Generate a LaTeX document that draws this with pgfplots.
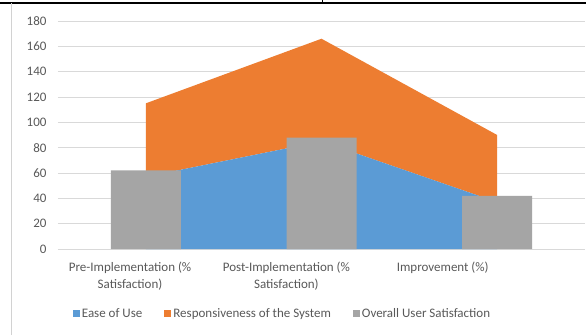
\documentclass[border=0pt]{standalone}
\usepackage{pgfplots}
\pgfplotsset{compat=1.18}
\usepackage{pgfplotstable}
\usepackage{fontspec}
\setmainfont{Carlito}

\definecolor{easeblue}{HTML}{5B9BD5}
\definecolor{resporange}{HTML}{ED7D31}
\definecolor{overallgray}{HTML}{A5A5A5}
\definecolor{gridgray}{HTML}{D9D9D9}
\definecolor{labelgray}{HTML}{595959}

% Satisfaction scores per phase
\pgfplotstableread{
x ease resp overall
0 57 58 62
1 85 81 88
2 37 53 42
}\satisfaction

\begin{document}
\begin{tikzpicture}
\useasboundingbox (0pt,0pt) rectangle (586pt,335pt);
\fill[white] (0pt,0pt) rectangle (586pt,335pt);
% surrounding frame lines
\draw[black, line width=1.4pt] (0pt,332pt) -- (586pt,332pt);
\draw[black, line width=0.8pt] (322.5pt,332pt) -- (322.5pt,335pt);
\draw[gray!35, line width=0.8pt] (11.7pt,0pt) -- (11.7pt,332pt);

% stacked areas, grid, labels and legend
\begin{axis}[
  at={(58pt,86pt)}, anchor=south west,
  scale only axis, width=527pt, height=228pt,
  xmin=-0.5, xmax=2.5, ymin=0, ymax=180,
  axis line style={draw=none},
  ytick={0,20,...,180},
  ymajorgrids, grid style={gridgray, line width=0.8pt},
  major tick length=0pt,
  /pgf/number format/assume math mode=true,
  yticklabel style={font=\fontsize{13}{15}\selectfont, text=labelgray, xshift=-8pt},
  xtick={-0.09,0.80,1.69},
  xticklabels={{Pre-Implementation (\%\\Satisfaction)}, {Post-Implementation (\%\\Satisfaction)}, {Improvement (\%)}},
  xticklabel style={align=center, font=\fontsize{13}{17}\selectfont, text=labelgray, anchor=north, yshift=-9pt},
  stack plots=y,
  legend columns=3,
  legend style={at={(0.426,-0.283)}, anchor=center, draw=none, fill=none,
    font=\fontsize{13}{15}\selectfont, text=labelgray,
    /tikz/every even column/.append style={column sep=20pt}},
  legend image code/.code={\fill[#1] (0pt,-3.5pt) rectangle (7pt,3.5pt);},
]
\addplot[fill=easeblue, draw=none] table[x=x, y=ease] {\satisfaction} \closedcycle;
\addlegendentry{Ease of Use}
\addplot[fill=resporange, draw=none] table[x=x, y=resp] {\satisfaction} \closedcycle;
\addlegendentry{Responsiveness of the System}
\addlegendimage{fill=overallgray, draw=none}
\addlegendentry{Overall User Satisfaction}
\end{axis}

% overall satisfaction bars on top
\begin{axis}[
  at={(58pt,86pt)}, anchor=south west,
  scale only axis, width=527pt, height=228pt,
  xmin=-0.5, xmax=2.5, ymin=0, ymax=180,
  hide axis,
]
\addplot[ybar, bar width=70pt, fill=overallgray, draw=none] table[x=x, y=overall] {\satisfaction};
\end{axis}
\end{tikzpicture}
\end{document}
